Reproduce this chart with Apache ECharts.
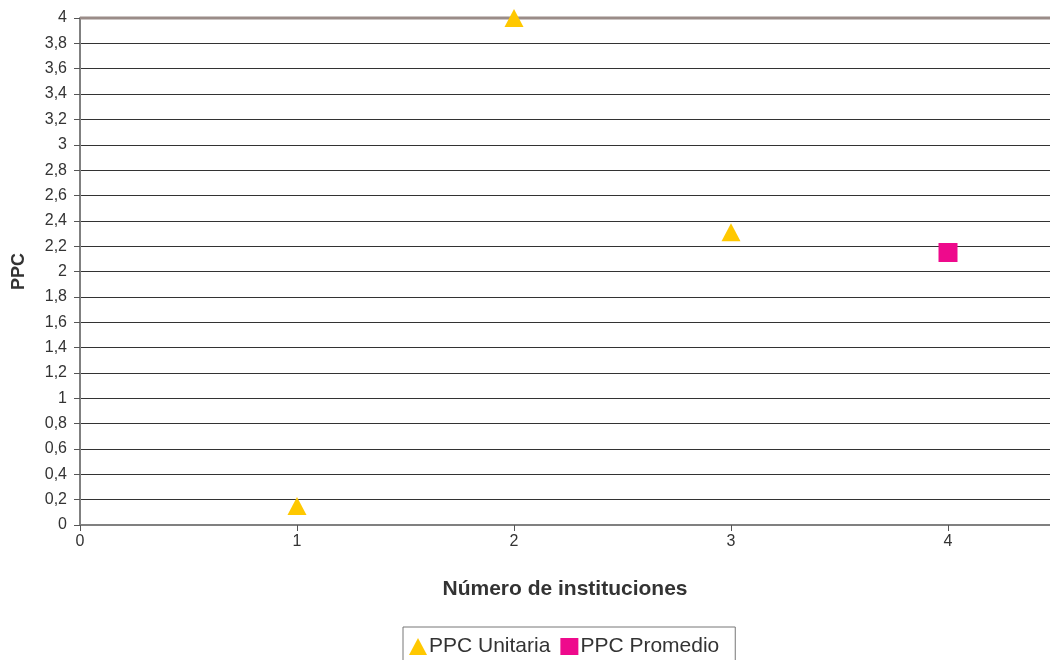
<!DOCTYPE html>
<html>
<head>
<meta charset="utf-8">
<script src="https://cdn.jsdelivr.net/npm/echarts@6/dist/echarts.min.js"></script>
<style>
html, body { margin: 0; padding: 0; background: #fff; }
#chart { width: 1050px; height: 660px; }
</style>
</head>
<body>
<div id="chart"></div>
<script>
// Number of institutions vs PPC values
const unitariaX = [1, 2, 3];
const unitariaY = [0.15, 4.0, 2.31];
const promedioX = [4];
const promedioY = [2.15];
const xTicks = [0, 1, 2, 3, 4];

const fmtComma = v => String(Math.round(v * 10) / 10).replace('.', ',');

const chart = echarts.init(document.getElementById('chart'));
chart.setOption({
  animation: false,
  textStyle: { fontFamily: 'Liberation Sans, Arial, sans-serif' },
  grid: { left: 80, right: 0, top: 18, bottom: 135, containLabel: false, outerBoundsMode: 'none' },
  xAxis: {
    type: 'value', min: 0, max: 4.47, interval: 1,
    name: 'Número de instituciones', nameLocation: 'middle', nameGap: 54,
    nameTextStyle: { fontSize: 21, fontWeight: 'bold', color: '#333' },
    axisLine: { lineStyle: { color: '#808080', width: 2 } },
    axisTick: { show: true, length: 6, lineStyle: { color: '#555' } },
    axisLabel: { fontSize: 16, color: '#333', margin: 9, showMaxLabel: false,
      formatter: v => xTicks.includes(v) ? String(v) : '' },
    splitLine: { show: false }
  },
  yAxis: {
    type: 'value', min: 0, max: 4, interval: 0.2,
    name: 'PPC', nameLocation: 'middle', nameGap: 52, nameRotate: 90,
    nameTextStyle: { fontSize: 18, fontWeight: 'bold', color: '#333' },
    axisLine: { show: true, lineStyle: { color: '#808080', width: 2 } },
    axisTick: { show: true, length: 6, lineStyle: { color: '#555' } },
    axisLabel: { fontSize: 16, color: '#333', margin: 13, formatter: fmtComma },
    splitLine: { show: true, lineStyle: { color: '#333', width: 1 } }
  },
  legend: {
    top: 627, left: 403,
    itemWidth: 18, itemHeight: 17, itemGap: 10,
    borderColor: '#777', borderWidth: 1, borderRadius: 0,
    padding: [9, 16, 9, 6],
    textStyle: { fontSize: 21, color: '#333', padding: [0, 0, 0, -3] },
    data: [
      { name: 'PPC Unitaria', icon: 'triangle' },
      { name: 'PPC Promedio', icon: 'rect' }
    ]
  },
  series: [
    {
      name: 'PPC Unitaria', type: 'scatter', symbol: 'triangle', symbolSize: [19, 18],
      itemStyle: { color: '#FFC800', opacity: 1 }, z: 5,
      data: unitariaX.map((x, i) => [x, unitariaY[i]])
    },
    {
      name: 'PPC Promedio', type: 'scatter', symbol: 'rect', symbolSize: 19,
      itemStyle: { color: '#EE0A8C', opacity: 1 }, z: 5,
      data: promedioX.map((x, i) => [x, promedioY[i]])
    }
  ],
  graphic: [
    // heavier border across the top of the plot
    { type: 'line', shape: { x1: 80, y1: 18, x2: 1050, y2: 18 },
      style: { stroke: '#9a8c88', lineWidth: 3 }, z: 1 }
  ]
});
</script>
</body>
</html>
